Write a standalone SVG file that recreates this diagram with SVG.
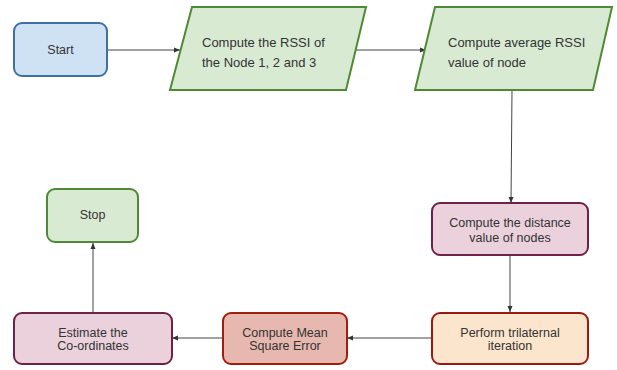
<svg xmlns="http://www.w3.org/2000/svg" width="617" height="370" viewBox="0 0 617 370">
<style>
  .t { font-family: "Liberation Sans", Arial, sans-serif; font-size: 12.5px; fill: #333333; }
  .c { text-anchor: middle; }
  .blue { fill: #cfe2f3; stroke: #3f6fa8; stroke-width: 2; }
  .green { fill: #d9ead3; stroke: #4e8a35; stroke-width: 2; }
  .purple { fill: #ead1dc; stroke: #6e2048; stroke-width: 2; }
  .orange { fill: #fce5cd; stroke: #9a1a12; stroke-width: 2; }
  .red { fill: #e6b8af; stroke: #a01e10; stroke-width: 2; }
  .edge { fill: none; stroke: #444444; stroke-width: 1; marker-end: url(#ah); }
</style>
<defs>
  <marker id="ah" viewBox="0 0 6 6" refX="6" refY="3" markerWidth="6" markerHeight="6" orient="auto" markerUnits="userSpaceOnUse">
    <path d="M0,0.5 L6,3 L0,5.5 z" fill="#333333"/>
  </marker>
</defs>
<rect width="617" height="370" fill="#ffffff"/>
<g id="connectors">
  <line class="edge" x1="107" y1="50" x2="180" y2="50"/>
  <line class="edge" x1="356" y1="50" x2="426" y2="50"/>
  <line class="edge" x1="512" y1="90" x2="511" y2="203"/>
  <line class="edge" x1="510" y1="256" x2="510" y2="312"/>
  <line class="edge" x1="432" y1="338" x2="347" y2="338"/>
  <line class="edge" x1="223" y1="338" x2="172" y2="338"/>
  <line class="edge" x1="93" y1="313" x2="93" y2="243"/>
</g>
<g id="start">
  <rect class="blue" x="14" y="23" width="93" height="53" rx="8"/>
  <text class="t c" x="60.5" y="54">Start</text>
</g>
<g id="rssi">
  <polygon class="green" points="192,7 366,7 346,90 170,90"/>
  <text class="t" x="202" y="47" style="font-size:13px">Compute the RSSI of</text>
  <text class="t" x="202" y="67" style="font-size:13px">the Node 1, 2 and 3</text>
</g>
<g id="avg">
  <polygon class="green" points="435,7 612,7 593,90 415,90"/>
  <text class="t" x="448" y="47" style="font-size:13px">Compute average RSSI</text>
  <text class="t" x="448" y="67" style="font-size:13px">value of node</text>
</g>
<g id="distance">
  <rect class="purple" x="432" y="203" width="156" height="52" rx="8"/>
  <text class="t c" x="510" y="227">Compute the distance</text>
  <text class="t c" x="510" y="242">value of nodes</text>
</g>
<g id="trilateral">
  <rect class="orange" x="432" y="313" width="156" height="51" rx="8"/>
  <text class="t c" x="510" y="337">Perform trilaternal</text>
  <text class="t c" x="510" y="350">iteration</text>
</g>
<g id="mse">
  <rect class="red" x="223" y="313" width="124" height="51" rx="8"/>
  <text class="t c" x="285" y="337">Compute Mean</text>
  <text class="t c" x="285" y="350">Square Error</text>
</g>
<g id="estimate">
  <rect class="purple" x="14" y="313" width="158" height="51" rx="8"/>
  <text class="t c" x="93" y="337">Estimate the</text>
  <text class="t c" x="93" y="350">Co-ordinates</text>
</g>
<g id="stop">
  <rect class="green" x="47" y="189" width="91" height="53" rx="8"/>
  <text class="t c" x="92.5" y="219">Stop</text>
</g>
</svg>
